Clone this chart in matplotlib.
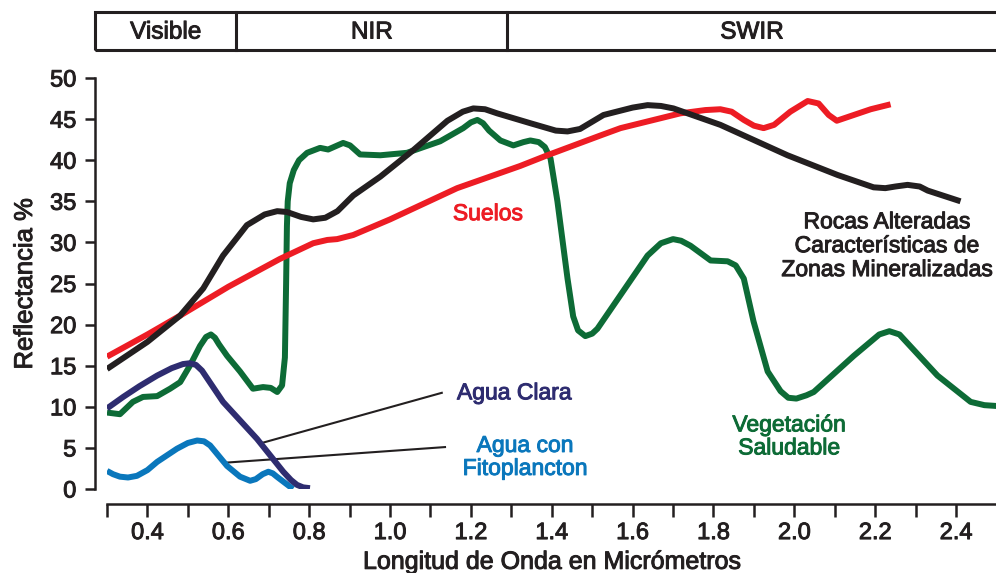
"""
Firma espectral de distintas superficies
- Reflectancia (%) vs longitud de onda (micrómetros)
"""

import matplotlib.pyplot as plt
import matplotlib.patheffects as pe
from matplotlib.patches import Rectangle
from matplotlib.ticker import MultipleLocator

plt.rcParams['font.family'] = ['Liberation Sans', 'DejaVu Sans']

# Bandas del espectro (franja superior)
bandas = ["Visible", "NIR", "SWIR"]
limites_bandas = [0.27, 0.62, 1.29, 2.52]

# Suelos
suelos_x = [0.30, 0.40, 0.481, 0.60, 0.728, 0.81, 0.845, 0.869, 0.909, 1.00,
            1.166, 1.322, 1.389, 1.52, 1.57, 1.718, 1.78, 1.817, 1.845, 1.875,
            1.90, 1.924, 1.95, 1.99, 2.033, 2.06, 2.085, 2.105, 2.147, 2.189,
            2.238]
suelos_y = [16.1, 18.8, 21.1, 24.6, 28.0, 29.9, 30.3, 30.4, 30.9, 32.8,
            36.6, 39.3, 40.6, 43.0, 43.9, 45.7, 46.1, 46.2, 45.9, 44.9,
            44.2, 43.9, 44.3, 45.9, 47.2, 46.9, 45.5, 44.8, 45.5, 46.2,
            46.8]

# Rocas alteradas
rocas_x = [0.30, 0.40, 0.481, 0.538, 0.587, 0.646, 0.69, 0.721, 0.745, 0.78,
           0.81, 0.84, 0.87, 0.909, 0.976, 1.057, 1.142, 1.18, 1.206, 1.235,
           1.265, 1.347, 1.41, 1.439, 1.47, 1.528, 1.60, 1.637, 1.67, 1.701,
           1.817, 1.983, 2.107, 2.196, 2.225, 2.25, 2.28, 2.31, 2.33, 2.411]
rocas_y = [14.6, 17.9, 21.1, 24.4, 28.4, 32.1, 33.4, 33.8, 33.7, 33.1,
           32.8, 33.0, 33.8, 35.7, 38.0, 41.2, 44.8, 45.9, 46.3, 46.2,
           45.7, 44.5, 43.6, 43.5, 43.8, 45.5, 46.4, 46.7, 46.6, 46.3,
           44.3, 40.6, 38.2, 36.7, 36.6, 36.8, 37.0, 36.8, 36.3, 35.0]

# Vegetación saludable
veg_x = [0.30, 0.332, 0.364, 0.389, 0.424, 0.456, 0.481, 0.505, 0.53, 0.545,
         0.557, 0.567, 0.577, 0.597, 0.629, 0.661, 0.686, 0.705, 0.721, 0.733,
         0.740, 0.743, 0.745, 0.747, 0.752, 0.762, 0.775, 0.795, 0.827, 0.847,
         0.870, 0.884, 0.901, 0.926, 0.976, 1.042, 1.124, 1.181, 1.20, 1.216,
         1.23, 1.245, 1.273, 1.305, 1.33, 1.347, 1.368, 1.383, 1.397, 1.414,
         1.439, 1.453, 1.465, 1.483, 1.50, 1.513, 1.637, 1.67, 1.70, 1.72,
         1.743, 1.793, 1.835, 1.855, 1.875, 1.899, 1.934, 1.966, 1.985, 2.005,
         2.03, 2.048, 2.147, 2.21, 2.235, 2.26, 2.354, 2.436, 2.47, 2.50]
veg_y = [9.3, 9.1, 10.6, 11.2, 11.3, 12.2, 13.0, 15.0, 17.4, 18.5,
         18.8, 18.4, 17.6, 16.2, 14.3, 12.2, 12.4, 12.3, 11.8, 12.6,
         16.0, 25.0, 32.0, 35.0, 37.2, 38.8, 40.0, 40.9, 41.5, 41.3,
         41.8, 42.1, 41.8, 40.7, 40.6, 40.9, 42.3, 43.9, 44.6, 44.9,
         44.5, 43.6, 42.4, 41.8, 42.2, 42.4, 42.2, 41.6, 40.2, 35.0,
         25.6, 21.0, 19.3, 18.6, 18.9, 19.5, 28.4, 29.9, 30.4, 30.2,
         29.6, 27.8, 27.7, 27.2, 25.6, 20.4, 14.3, 11.9, 11.1, 11.0,
         11.4, 11.8, 16.2, 18.8, 19.2, 18.8, 13.8, 10.6, 10.2, 10.1]

# Agua clara
clara_x = [0.30, 0.34, 0.38, 0.424, 0.46, 0.488, 0.505, 0.52, 0.535, 0.587,
           0.671, 0.736, 0.755, 0.77, 0.785, 0.802]
clara_y = [9.8, 11.2, 12.5, 13.8, 14.7, 15.2, 15.3, 15.1, 14.4, 10.6,
           6.1, 2.1, 1.1, 0.5, 0.2, 0.1]

# Agua con fitoplancton
fito_x = [0.30, 0.315, 0.332, 0.352, 0.374, 0.40, 0.424, 0.473, 0.50, 0.523,
          0.54, 0.555, 0.597, 0.629, 0.654, 0.668, 0.685, 0.699, 0.710, 0.720,
          0.760]
fito_y = [2.2, 1.8, 1.5, 1.4, 1.6, 2.3, 3.3, 4.9, 5.6, 5.9,
          5.8, 5.3, 2.8, 1.5, 1.0, 1.2, 1.8, 2.1, 1.9, 1.5,
          0.0]

# Líneas guía de las etiquetas de agua
guia_clara_x = [0.683, 1.128]
guia_clara_y = [5.6, 11.7]
guia_fito_x = [0.592, 1.136]
guia_fito_y = [3.2, 5.1]

ROJO = '#ED1C24'
NEGRO = '#231F20'
VERDE = '#0D6B36'
AZUL_OSC = '#2E2C70'
AZUL = '#0A77BC'


def grueso(color):
    # engrosa un poco el texto (la fuente original es más pesada)
    return [pe.withStroke(linewidth=0.7, foreground=color)]


fig = plt.figure(figsize=(9.96, 5.73), dpi=100)
ax = fig.add_axes([107 / 996, 84 / 573, 889.5 / 996, 411 / 573])

estilo = dict(lw=4.3, solid_capstyle='butt', solid_joinstyle='round')
ax.plot(guia_clara_x, guia_clara_y, color=NEGRO, lw=1.5)
ax.plot(guia_fito_x, guia_fito_y, color=NEGRO, lw=1.5)
ax.plot(veg_x, veg_y, color=VERDE, **estilo)
ax.plot(suelos_x, suelos_y, color=ROJO, **estilo)
ax.plot(rocas_x, rocas_y, color=NEGRO, **estilo)
ax.plot(fito_x, fito_y, color=AZUL, **estilo)
ax.plot(clara_x, clara_y, color=AZUL_OSC, **estilo)

# Etiquetas
fs = 16.5
etiquetas = [
    (1.242, 33.5, "Suelos", ROJO, 1.0),
    (2.229, 29.6, "Rocas Alteradas\nCaracterísticas de\nZonas Mineralizadas", NEGRO, 1.05),
    (1.307, 11.7, "Agua Clara", AZUL_OSC, 1.0),
    (1.334, 3.9, "Agua con\nFitoplancton", AZUL, 1.0),
    (1.987, 6.4, "Vegetación\nSaludable", VERDE, 1.0),
]
for x, y, texto, color, ls in etiquetas:
    ax.text(x, y, texto, color=color, fontsize=fs, ha='center', va='center',
            linespacing=ls, path_effects=grueso(color))

# Ejes
ax.set_xlim(0.3, 2.5)
ax.set_ylim(0, 50)
for lado in ['top', 'right']:
    ax.spines[lado].set_visible(False)
ax.spines['left'].set_position(('outward', 8.6))
ax.spines['bottom'].set_position(('outward', 10.8))
ax.spines['left'].set_bounds(0, 50)
for lado in ['left', 'bottom']:
    ax.spines[lado].set_linewidth(1.8)
    ax.spines[lado].set_color(NEGRO)

ax.set_xticks([0.4, 0.6, 0.8, 1.0, 1.2, 1.4, 1.6, 1.8, 2.0, 2.2, 2.4])
ax.xaxis.set_minor_locator(MultipleLocator(0.1))
ax.set_xticklabels(['0.4', '0.6', '0.8', '1.0', '1.2', '1.4', '1.6', '1.8',
                    '2.0', '2.2', '2.4'])
ax.set_yticks(range(0, 51, 5))
ax.tick_params(axis='x', which='both', direction='out', length=9.5, width=1.8,
               color=NEGRO, labelsize=17, labelcolor=NEGRO, pad=3.5)
ax.tick_params(axis='y', direction='out', length=7, width=1.8,
               color=NEGRO, labelsize=17, labelcolor=NEGRO, pad=6.5)
for lbl in ax.get_xticklabels() + ax.get_yticklabels():
    lbl.set_path_effects(grueso(NEGRO))

ax.set_xlabel("Longitud de Onda en Micrómetros", fontsize=18, color=NEGRO,
              path_effects=grueso(NEGRO))
ax.xaxis.set_label_coords(0.5, -0.148)
ax.set_ylabel("Reflectancia %", fontsize=18.5, color=NEGRO,
              path_effects=grueso(NEGRO))
ax.yaxis.set_label_coords(-0.0787, 0.5)

# Franja de bandas espectrales
bx = fig.add_axes([107 / 996, 523 / 573, 889.5 / 996, 38 / 573])
bx.set_xlim(0.3, 2.5)
bx.set_ylim(0, 1)
bx.axis('off')
bx.add_patch(Rectangle((limites_bandas[0], 0), limites_bandas[-1] - limites_bandas[0], 1,
                       fill=False, lw=2.2, ec=NEGRO, clip_on=False))
for i, nombre in enumerate(bandas):
    a, b = limites_bandas[i], limites_bandas[i + 1]
    if i > 0:
        bx.plot([a, a], [0, 1], color=NEGRO, lw=2.2, clip_on=False)
    centro = (a + min(b, 2.5)) / 2
    bx.text(centro, 0.46, nombre, fontsize=17.5, ha='center', va='center',
            color=NEGRO, path_effects=grueso(NEGRO))

fig.savefig('out.png', dpi=100)
